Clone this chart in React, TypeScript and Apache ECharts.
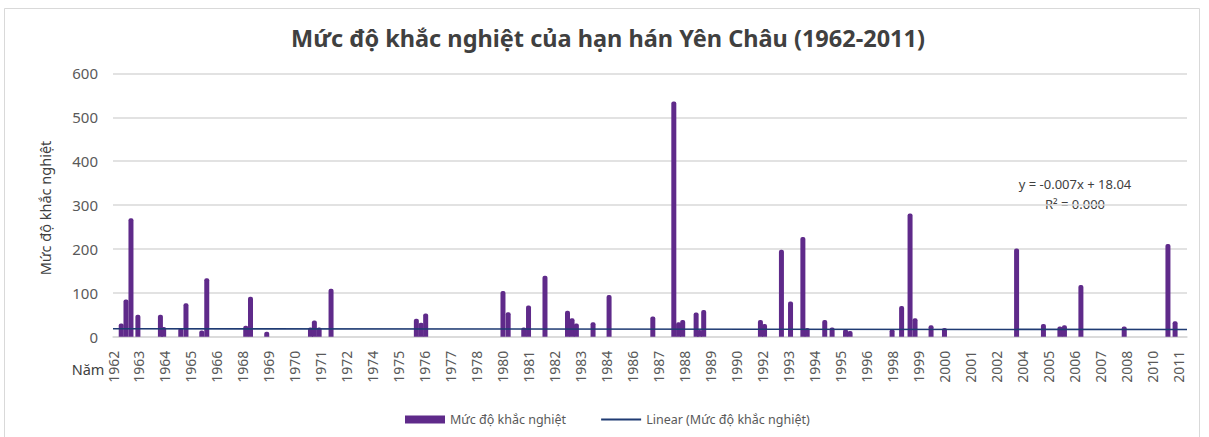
import React, { useEffect, useRef } from "react";
import * as echarts from "echarts";

const TITLE = "Mức độ khắc nghiệt của hạn hán Yên Châu (1962-2011)";
const SERIES_NAME = "Mức độ khắc nghiệt";
const TREND_NAME = "Linear (Mức độ khắc nghiệt)";
const Y_NAME = "Mức độ khắc nghiệt";
const X_NAME = "Năm";
const EQUATION = "y = -0.007x + 18.04";
const R_SQUARED = "R² = 0.000";

// Time of each drought event (decimal year) and its severity
const eventTime = [
  1962.38, 1962.6, 1962.83, 1963.15, 1964.19, 1964.34, 1965.13, 1965.37, 1966.1, 1966.33,
  1968.13, 1968.35, 1969.1, 1971.12, 1971.3, 1971.52, 1972.07, 1976.01, 1976.23, 1976.44,
  1980.01, 1980.25, 1980.97, 1981.19, 1981.95, 1982.99, 1983.2, 1983.4, 1984.17, 1984.91,
  1986.93, 1987.9, 1988.12, 1988.31, 1988.93, 1989.09, 1989.28, 1991.9, 1992.09, 1992.87,
  1993.29, 1993.86, 1994.06, 1994.87, 1995.21, 1995.83, 1996.04, 1997.98, 1998.42, 1998.81,
  1999.04, 1999.78, 2000.4, 2003.73, 2004.97, 2005.73, 2005.94, 2006.7, 2008.7, 2010.72,
  2011.05,
];
const severity = [
  30, 85, 270, 50, 50, 22, 20, 76, 14, 133,
  25, 91, 11, 21, 37, 21, 109, 41, 32, 53,
  104, 56, 21, 71, 139, 59, 42, 30, 33, 95,
  46, 536, 33, 38, 55, 15, 61, 38, 29, 198,
  80, 227, 20, 38, 21, 17, 13, 17, 70, 281,
  42, 26, 20, 201, 29, 23, 26, 118, 23, 211,
  35,
];

// Axis ticks
const yMin = 0;
const yMax = 600;
const yStep = 100;
const xMin = 1962;
const xMax = 2011.6;
const xStep = 1.2;

// Excel linear trendline: y = slope * n + intercept, n = period index
const trendSlope = -0.007;
const trendIntercept = 18.04;
const trendPeriods = 248;

const FONT = "'Noto Sans', 'DejaVu Sans', sans-serif";

export default function App() {
  const ref = useRef<HTMLDivElement>(null);

  useEffect(() => {
    if (!ref.current) return;
    const chart = echarts.init(ref.current, undefined, { renderer: "svg" });
    const barData = eventTime.map((t, i) => [t, severity[i]]);
    const trendData = [
      [xMin, trendIntercept + trendSlope * 1],
      [xMax, trendIntercept + trendSlope * trendPeriods],
    ];
    chart.setOption({
      animation: false,
      backgroundColor: "#ffffff",
      textStyle: { fontFamily: FONT },
      grid: { left: 113, right: 1209 - 1187, top: 73.4, bottom: 437 - 336.7, containLabel: false },
      legend: {
        left: 400,
        top: 408,
        itemWidth: 40,
        itemHeight: 8,
        itemGap: 34,
        textStyle: { fontSize: 12.5, color: "#595959", fontFamily: FONT },
        data: [
          { name: SERIES_NAME, icon: "rect" },
          { name: TREND_NAME, itemStyle: { opacity: 0 } },
        ],
      },
      xAxis: {
        type: "value",
        min: xMin,
        max: xMax,
        interval: xStep,
        splitLine: { show: false },
        axisTick: { show: false },
        axisLine: { show: true, lineStyle: { color: "#d9d9d9", width: 1.5 } },
        axisLabel: {
          rotate: 90,
          fontSize: 14,
          color: "#595959",
          margin: 14,
          fontFamily: FONT,
          formatter: (v: number) => {
            const k = (v - xMin) / xStep;
            if (Math.abs(k - Math.round(k)) > 1e-3) return "";
            return String(Math.floor(v + 1e-6));
          },
        },
      },
      yAxis: {
        type: "value",
        min: yMin,
        max: yMax,
        interval: yStep,
        axisLine: { show: false },
        axisTick: { show: false },
        splitLine: { lineStyle: { color: "#d9d9d9", width: 1.5 } },
        axisLabel: { fontSize: 15, color: "#595959", margin: 15, fontFamily: FONT },
      },
      series: [
        {
          name: SERIES_NAME,
          type: "bar",
          data: barData,
          barWidth: 5,
          itemStyle: { color: "#5f2a8a", borderRadius: [2, 2, 0, 0] },
          z: 2,
        },
        {
          name: TREND_NAME,
          type: "line",
          data: trendData,
          symbol: "none",
          lineStyle: { color: "#1f3b73", width: 1.6 },
          itemStyle: { color: "#1f3b73" },
          z: 3,
        },
      ],
      graphic: [
        {
          type: "rect",
          shape: { x: 4.5, y: 8.5, width: 1195, height: 440 },
          style: { fill: "none", stroke: "#d9d9d9", lineWidth: 1 },
          silent: true,
        },
        {
          type: "text",
          x: 608,
          y: 38,
          style: {
            text: TITLE,
            fontSize: 23.5,
            fontWeight: "bold",
            fill: "#404040",
            fontFamily: FONT,
            textAlign: "center",
            textVerticalAlign: "middle",
          },
        },
        {
          type: "text",
          x: 45,
          y: 208,
          rotation: Math.PI / 2,
          style: {
            text: Y_NAME,
            fontSize: 14.5,
            fill: "#404040",
            fontFamily: FONT,
            textAlign: "center",
            textVerticalAlign: "middle",
          },
        },
        {
          type: "text",
          x: 88,
          y: 369,
          style: {
            text: X_NAME,
            fontSize: 14.5,
            fill: "#404040",
            fontFamily: FONT,
            textAlign: "center",
            textVerticalAlign: "middle",
          },
        },
        {
          type: "text",
          x: 1075,
          y: 184,
          style: {
            text: EQUATION,
            fontSize: 13,
            fill: "#404040",
            fontFamily: FONT,
            textAlign: "center",
            textVerticalAlign: "middle",
          },
        },
        {
          type: "text",
          x: 1075,
          y: 204,
          style: {
            text: R_SQUARED,
            fontSize: 13,
            fill: "#404040",
            fontFamily: FONT,
            textAlign: "center",
            textVerticalAlign: "middle",
          },
        },
      ],
    });
    return () => chart.dispose();
  }, []);

  return (
    <div
      ref={ref}
      style={{ position: "fixed", left: 0, top: 0, width: 1209, height: 437, background: "#fff" }}
    />
  );
}
